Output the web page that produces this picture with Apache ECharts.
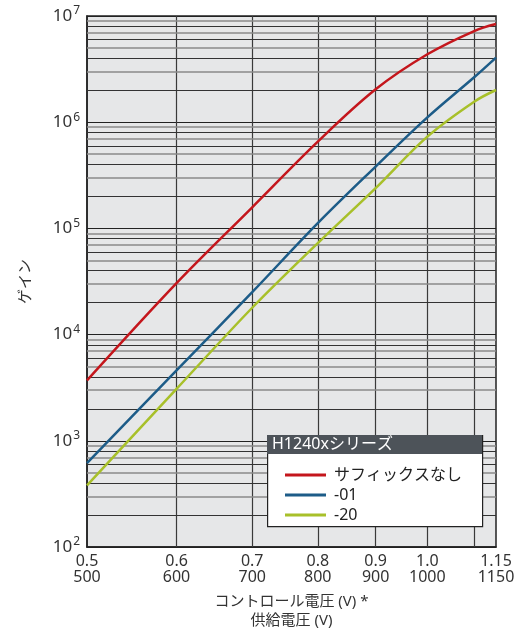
<!DOCTYPE html>
<html><head><meta charset="utf-8">
<script src="https://cdn.jsdelivr.net/npm/echarts@6/dist/echarts.min.js"></script>
<style>html,body{margin:0;padding:0;background:#fff}#c{width:523px;height:630px}</style>
</head><body><div id="c"></div>
<script>
// x ticks (control voltage / supply voltage)
const xTicks = [0.5, 0.6, 0.7, 0.8, 0.9, 1.0, 1.15];
const xTickLabels = ['0.5\n500', '0.6\n600', '0.7\n700', '0.8\n800', '0.9\n900', '1.0\n1000', '1.15\n1150'];
const xGrid = [0.6, 0.7, 0.8, 0.9, 1.0, 1.1];
// series
const seriesNames = ['サフィックスなし', '-01', '-20'];
const xVals = [0.5, 0.6, 0.7, 0.8, 0.9, 1.0, 1.1, 1.15];
const gainNone = [3700, 30500, 158000, 656000, 2040000, 4360000, 7220000, 8400000];
const gain01 = [617, 4610, 25100, 112000, 382000, 1110000, 2650000, 4060000];
const gain20 = [380, 3080, 17900, 72600, 239000, 731000, 1560000, 2010000];
const colors = ['#c4161c', '#1d5c88', '#a8c02a'];
const legendTitle = 'H1240xシリーズ';
const yName = 'ゲイン';
const xName = 'コントロール電圧 (V) *\n供給電圧 (V)';

const FONT = '"Noto Sans", "Noto Sans CJK JP", sans-serif';
const chart = echarts.init(document.getElementById('c'));

// minor horizontal grid values
const yMinor = [];
for (let e = 2; e < 7; e++) for (let m = 2; m <= 9; m++) yMinor.push(m * Math.pow(10, e));

const gridLines = [];
xGrid.forEach(v => gridLines.push({xAxis: v, lineStyle: {color: '#3a3a3a', width: 1.2, type: 'solid'}}));
yMinor.forEach((v, i) => {
  const m = Math.round(v / Math.pow(10, Math.floor(Math.log10(v) + 1e-9)));
  const dark = (m % 2 === 0);
  gridLines.push({yAxis: v, lineStyle: {color: dark ? '#333' : '#8a8a8a', width: dark ? 1 : 1.6, type: 'solid'}});
});

function pairs(ys) { return xVals.map((x, i) => [x, ys[i]]); }
const allData = [gainNone, gain01, gain20];

const series = seriesNames.map((n, i) => ({
  name: n, type: 'line', data: pairs(allData[i]), smooth: 0.35, symbol: 'none',
  lineStyle: {color: colors[i], width: 2.5}, itemStyle: {color: colors[i]}, z: 5,
  markLine: i === 0 ? {silent: true, symbol: 'none', label: {show: false}, data: gridLines, z: 1, animation: false} : undefined
}));

chart.setOption({
  animation: false,
  textStyle: {fontFamily: FONT},
  grid: {left: 87, right: 27, top: 16, bottom: 83, outerBoundsMode: 'none', containLabel: false, show: true, backgroundColor: '#e6e7e8', borderColor: '#222', borderWidth: 1.5},
  xAxis: {
    type: 'log', logBase: 10, min: 0.5, max: 1.15,
    axisLine: {show: true, lineStyle: {color: '#222', width: 1.5}},
    axisTick: {show: false},
    splitLine: {show: false},
    minorSplitLine: {show: false},
    axisLabel: {
      customValues: xTicks, showMinLabel: true, showMaxLabel: true,
      fontSize: 16, lineHeight: 16, color: '#333', margin: 6, fontFamily: FONT,
      formatter: function (v) {
        let best = 0, bd = Infinity;
        xTicks.forEach((t, i) => { const d = Math.abs(t - v); if (d < bd) { bd = d; best = i; } });
        return xTickLabels[best];
      }
    },
    name: xName, nameLocation: 'middle', nameGap: 45,
    nameTextStyle: {fontSize: 15, lineHeight: 19, color: '#333', fontFamily: FONT}
  },
  yAxis: {
    type: 'log', logBase: 10, min: 100, max: 10000000,
    axisLine: {show: true, lineStyle: {color: '#222', width: 1.5}},
    axisTick: {show: false},
    splitLine: {show: true, lineStyle: {color: '#222', width: 1.2}},
    axisLabel: {
      margin: 7, color: '#333',
      formatter: function (v) { return '{a|10}{b|' + Math.round(Math.log10(v)) + '}'; },
      rich: {
        a: {fontSize: 17, color: '#333', fontFamily: FONT},
        b: {fontSize: 12, color: '#333', fontFamily: FONT, verticalAlign: 'top', padding: [0, 0, 10, 1]}
      }
    },
    name: yName, nameLocation: 'middle', nameGap: 55, nameRotate: 90,
    nameTextStyle: {fontSize: 15, color: '#333', fontFamily: "'Noto Sans CJK JP', sans-serif"}
  },
  legend: {
    show: true, orient: 'vertical', left: 280, top: 462, itemWidth: 41, itemHeight: 3, itemGap: 4,
    data: seriesNames.map(n => ({name: n, icon: 'rect'})),
    textStyle: {fontSize: 16, lineHeight: 16, color: '#222', fontFamily: FONT, padding: [0, 0, 0, 3]},
    selectedMode: false, z: 20
  },
  graphic: [
    {type: 'rect', left: 267, top: 435, shape: {width: 215, height: 91}, style: {fill: '#fff', stroke: '#222', lineWidth: 1.2}, z: 10},
    {type: 'rect', left: 267, top: 435, shape: {width: 215, height: 19}, style: {fill: '#4d5359'}, z: 11},
    {type: 'text', left: 272, top: 436, style: {text: legendTitle, fill: '#fff', fontSize: 16, fontFamily: FONT}, z: 12}
  ],
  series: series
});
</script></body></html>
